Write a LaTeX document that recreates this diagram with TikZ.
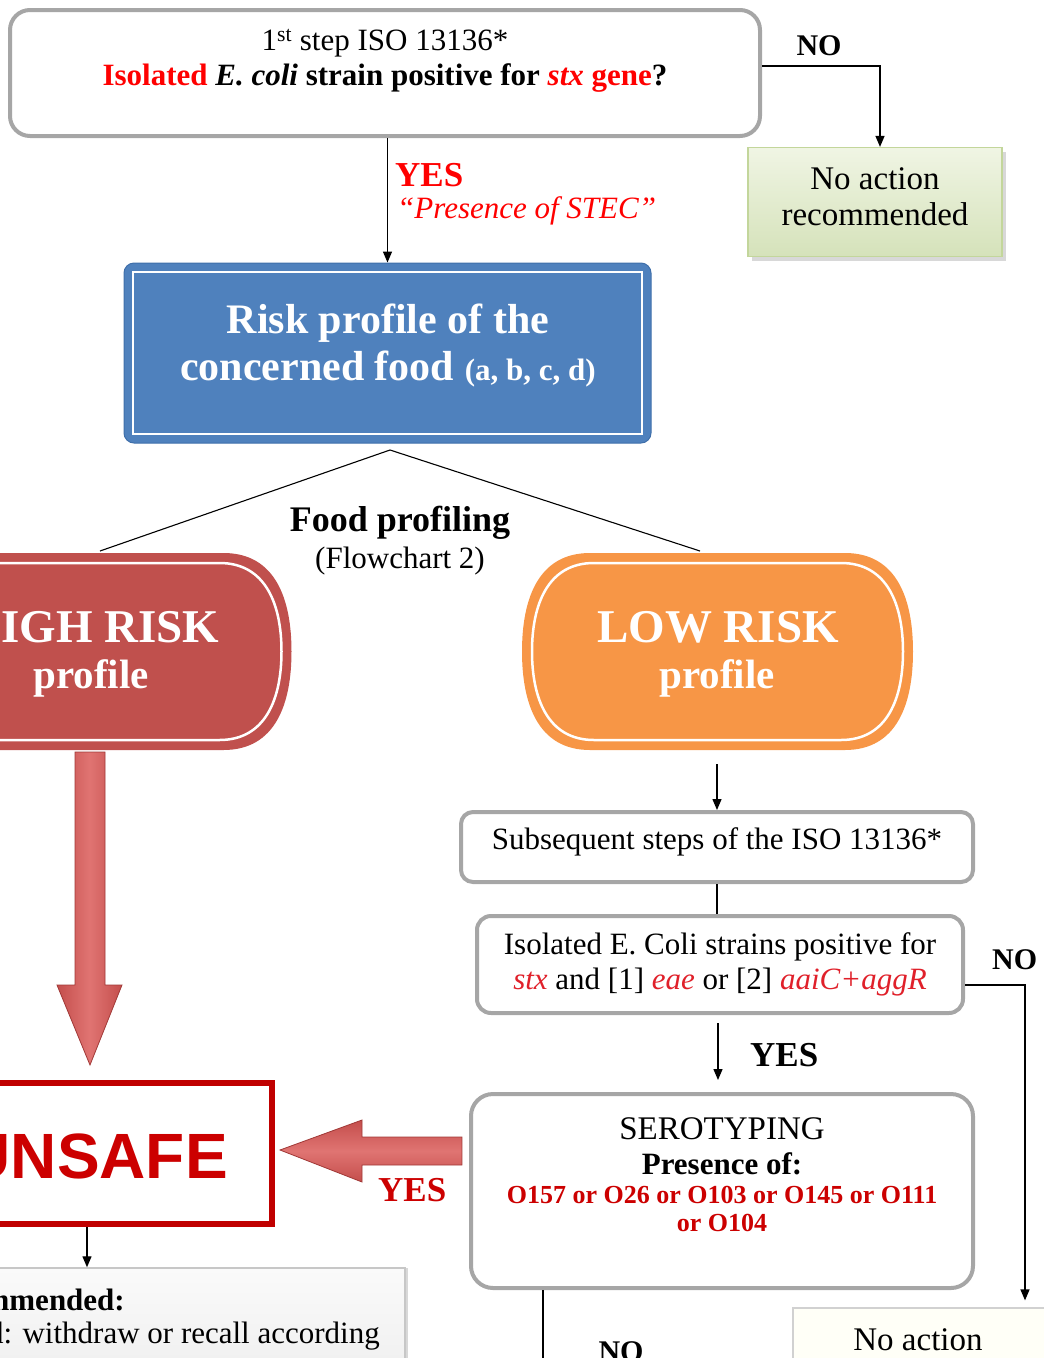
\documentclass[tikz,border=0pt]{standalone}
\usepackage{fontspec}
\setmainfont{Liberation Serif}
\newfontfamily\arialfont{Liberation Sans}
\usetikzlibrary{arrows.meta,shadows,calc}
\definecolor{boxgray}{HTML}{A6A6A6}
\definecolor{bluefill}{HTML}{4F81BD}
\definecolor{blueedge}{HTML}{3F6FAA}
\definecolor{highred}{HTML}{C0504D}
\definecolor{loworange}{HTML}{F79646}
\definecolor{unsafered}{HTML}{C00000}
\definecolor{txtred}{HTML}{FF0000}
\definecolor{genred}{HTML}{E0202A}
\definecolor{serored}{HTML}{CC0000}
\definecolor{greentop}{HTML}{F0F5E4}
\definecolor{greenbot}{HTML}{D5E2BA}
\definecolor{greenedge}{HTML}{C3D69B}
\definecolor{arrowred}{HTML}{C44E4C}
\definecolor{arrowlight}{HTML}{E07472}
\definecolor{arrowedge}{HTML}{A03836}
\begin{document}
\begin{tikzpicture}[x=1pt,y=-1pt,
  graybox/.style={draw=boxgray, line width=4pt, rounded corners=#1, fill=white, inner sep=0pt},
  conn/.style={line width=1.3pt, black},
  arr/.style={conn, -{Triangle[length=11pt,width=9pt]}},
  greenbox/.style={draw=greenedge, line width=1.2pt, top color=greentop, bottom color=greenbot,
     drop shadow={shadow xshift=4pt, shadow yshift=-4pt, fill=black!30}, inner sep=0pt},
  lbl/.style={font=\fontsize{30}{36}\selectfont\bfseries},
  plain/.style={inner sep=0pt}
]
\useasboundingbox (0,0) rectangle (1044,1358);
\clip (0,0) rectangle (1044,1358);

% ---- top question box
\node[graybox=20pt, minimum width=750pt, minimum height=126pt] (q1) at (385,73) {};
\node[plain, align=center, font=\fontsize{31}{35}\selectfont] (q1t) at (385,61)
  {1\textsuperscript{st} step ISO 13136*\\
   \textbf{\textcolor{txtred}{Isolated} \textit{E. coli} strain positive for \textcolor{txtred}{\textit{stx}} \textcolor{txtred}{gene}?}};

% ---- NO -> no action
\node[plain, lbl] (no1) at (819,46) {NO};
\node[greenbox, minimum width=254pt, minimum height=109pt] (na1) at (875,202) {};
\node[plain, align=center, font=\fontsize{33}{36}\selectfont] (na1t) at (875,197) {No action\\recommended};
\draw[arr] ([yshift=7pt]q1.east) -| ([xshift=5pt]na1.north);

% ---- blue risk profile box
\node[draw=blueedge, line width=1pt, fill=bluefill, rounded corners=10pt, minimum width=527pt, minimum height=180pt] (blue) at (387.5,353) {};
\draw[white, line width=2.5pt] (133,272) rectangle (642,434);
\node[plain, align=center, text=white, font=\fontsize{42}{47}\selectfont\bfseries] (bluet) at (388,346)
  {Risk profile of the\\concerned food {\fontsize{31}{30}\selectfont (a, b, c, d)}};

\draw[arr] (q1.south -| blue.north) -- (blue.north);
\node[plain, anchor=west, text=txtred, font=\fontsize{35}{40}\selectfont\bfseries] (yes1) at (395,175) {YES};
\node[plain, anchor=west, text=txtred, font=\fontsize{31}{32}\selectfont\itshape] (stec) at (397,211) {“Presence of STEC”};

% ---- food profiling split
\coordinate (apex) at (390,450);
\coordinate (hitop) at (100,551);
\coordinate (lotop) at (700,551);
\draw[line width=1.1pt] (hitop) -- (apex) -- (lotop);
\node[plain, align=center, font=\fontsize{31}{37}\selectfont] (fp) at (400,541) {{\fontsize{36}{37}\selectfont\bfseries Food profiling}\\(Flowchart 2)};

% ---- HIGH RISK shape
\node[minimum width=391pt, minimum height=197pt, inner sep=0pt] (high) at (96,651.5) {};
\fill[highred] (-31.5,553) -- (223.5,553) .. controls (276,553) and (291.5,600) .. (291.5,651.5)
  .. controls (291.5,703) and (276,750) .. (223.5,750) -- (-31.5,750)
  .. controls (-84,750) and (-99.5,703) .. (-99.5,651.5) .. controls (-99.5,600) and (-84,553) .. (-31.5,553) -- cycle;
\draw[white, line width=2.5pt] (-27.5,563) -- (219.5,563) .. controls (266,563) and (281.5,605) .. (281.5,651.5)
  .. controls (281.5,698) and (266,740) .. (219.5,740) -- (-27.5,740)
  .. controls (-74,740) and (-89.5,698) .. (-89.5,651.5) .. controls (-89.5,605) and (-74,563) .. (-27.5,563) -- cycle;
\node[plain, text=white, font=\fontsize{47}{50}\selectfont\bfseries] (hight1) at (92,627) {HIGH RISK};
\node[plain, text=white, font=\fontsize{41}{44}\selectfont\bfseries] (hight2) at (91,678) {profile};

% ---- LOW RISK shape
\node[minimum width=391pt, minimum height=197pt, inner sep=0pt] (low) at (717.5,651.5) {};
\fill[loworange] (590,553) -- (845,553) .. controls (897.5,553) and (913,600) .. (913,651.5)
  .. controls (913,703) and (897.5,750) .. (845,750) -- (590,750)
  .. controls (537.5,750) and (522,703) .. (522,651.5) .. controls (522,600) and (537.5,553) .. (590,553) -- cycle;
\draw[white, line width=2.5pt] (594,563) -- (841,563) .. controls (887.5,563) and (903,605) .. (903,651.5)
  .. controls (903,698) and (887.5,740) .. (841,740) -- (594,740)
  .. controls (547.5,740) and (532,698) .. (532,651.5) .. controls (532,605) and (547.5,563) .. (594,563) -- cycle;
\node[plain, text=white, font=\fontsize{47}{50}\selectfont\bfseries] (lowt1) at (718,627) {LOW RISK};
\node[plain, text=white, font=\fontsize{41}{44}\selectfont\bfseries] (lowt2) at (717,678) {profile};

% ---- big down arrow (high risk -> unsafe)
\draw[arrowedge, line width=0.8pt, left color=arrowred, right color=arrowred, middle color=arrowlight]
  (75,752) -- (105,752) -- (105,985) -- (122,985) -- (90,1065) -- (57,985) -- (75,985) -- cycle;

% ---- low risk branch
\node[graybox=12pt, minimum width=512pt, minimum height=70pt] (sub) at (717,847) {};
\node[plain, font=\fontsize{31}{35}\selectfont] (subt) at (717,842) {Subsequent steps of the ISO 13136*};
\draw[arr] ([yshift=-14pt]low.south -| sub.north) -- (sub.north);

\node[graybox=14pt, minimum width=486pt, minimum height=97pt] (iso) at (720,964.5) {};
\node[plain, align=center, font=\fontsize{31}{35}\selectfont] (isot) at (720,964)
  {Isolated E. Coli strains positive for\\
   \textcolor{genred}{\textit{stx}} and [1] \textcolor{genred}{\textit{eae}} or [2] \textcolor{genred}{\textit{aaiC+aggR}}};
\draw[conn] (sub.south) -- (sub.south |- iso.north);

\node[plain, lbl, anchor=west] (no2) at (992,960) {NO};

\node[graybox=22pt, minimum width=502pt, minimum height=194pt] (sero) at (722,1191) {};
\node[plain, align=center, font=\fontsize{31}{35}\selectfont] (serot) at (722,1146) {{\fontsize{33}{35}\selectfont SEROTYPING}\\\textbf{Presence of:}};
\node[plain, align=center, text=serored, font=\fontsize{26}{28}\selectfont\bfseries] (serol) at (722,1209)
  {O157 or O26 or O103 or O145 or O111\\or O104};
\draw[arr, shorten <=8pt, shorten >=12pt] ([xshift=-2pt]iso.south) -- ([xshift=-2pt]iso.south |- sero.north);
\node[plain, anchor=west, font=\fontsize{35}{40}\selectfont\bfseries] (yes2) at (750,1055) {YES};

% ---- no action (bottom right)
\node[draw=black!18, line width=1.2pt, fill=yellow!3, minimum width=257pt, minimum height=120pt, inner sep=0pt] (nob) at (921.5,1368) {};
\node[plain, font=\fontsize{33}{36}\selectfont, anchor=base] (nobt) at (918,1350) {No action};
\draw[arr, shorten >=7pt] ([yshift=-20.5pt]iso.east) -| ([xshift=103.5pt]nob.north);

% ---- NO below serotyping
\coordinate (seroout) at (543,1380);
\draw[conn] (sero.south -| seroout) -- (seroout);
\node[plain, lbl, anchor=base] (no3) at (621,1361) {NO};

% ---- UNSAFE
\node[draw=unsafered, line width=6pt, fill=white, minimum width=332pt, minimum height=141pt, inner sep=0pt] (unsafe) at (106,1153.5) {};
\node[plain, anchor=base east, text=serored, font=\arialfont\bfseries\fontsize{64}{70}\selectfont] (unsafet) at (228,1178) {UNSAFE};

% ---- big left arrow (serotyping -> unsafe)
\draw[arrowedge, line width=0.8pt, top color=arrowred, bottom color=arrowred, middle color=arrowlight]
  (462,1137) -- (362,1137) -- (362,1120) -- (280,1150) -- (362,1182) -- (362,1165) -- (462,1165) -- cycle;
\node[plain, anchor=west, text=serored, font=\fontsize{35}{40}\selectfont\bfseries] (yes3) at (378,1190) {YES};

% ---- action recommended box
\node[draw=black!22, line width=1.5pt, top color=black!2, bottom color=black!7,
      drop shadow={shadow xshift=3pt, shadow yshift=0pt, fill=black!30},
      minimum width=435pt, minimum height=132pt, inner sep=0pt] (ac) at (187.5,1334) {};
\node[plain, anchor=base east, font=\fontsize{31}{35}\selectfont\bfseries] (act1) at (125,1310) {Action recommended:};
\node[plain, anchor=base east, font=\fontsize{31}{35}\selectfont] (act2) at (380,1343) {Unsafe food: withdraw or recall according};
\draw[arr] ([xshift=-19pt]unsafe.south) -- ([xshift=-19pt]unsafe.south |- ac.north);
\end{tikzpicture}
\end{document}
